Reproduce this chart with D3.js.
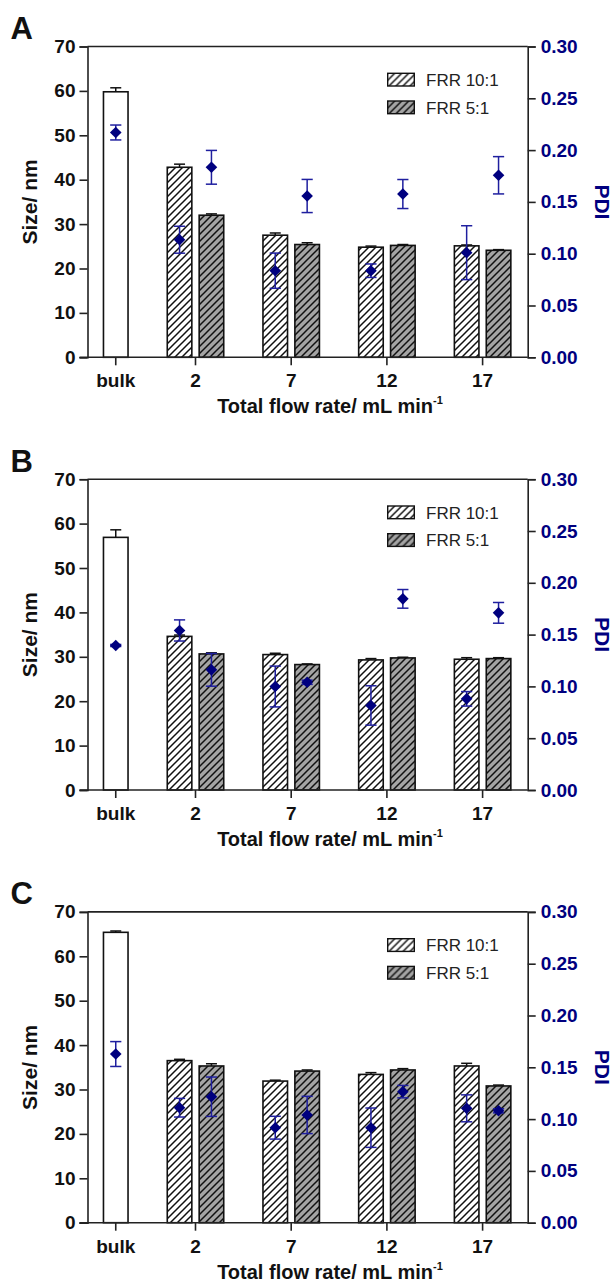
<!DOCTYPE html>
<html>
<head>
<meta charset="utf-8">
<script src="https://cdn.jsdelivr.net/npm/d3@7"></script>
<style>
  body { margin: 0; background: #fff; }
  text { font-family: "Liberation Sans", Arial, sans-serif; }
</style>
</head>
<body>
<div id="chart"></div>
<script>
(function () {
  'use strict';

  // categories and series
  var panels = ["A", "B", "C"];
  var flows = ["2", "7", "12", "17"];
  var series = ["FRR 10:1", "FRR 5:1"];
  var sizeTicks = [0, 10, 20, 30, 40, 50, 60, 70];
  var pdiTicks = [0, 0.05, 0.10, 0.15, 0.20, 0.25, 0.30];

  // size (nm), one row per panel
  var sizeBulk    = [59.8, 56.9, 65.4];
  var sizeBulkErr = [0.9, 1.7, 0.3];
  var size10    = [[42.8, 27.5, 24.8, 25.1], [34.6, 30.5, 29.3, 29.45], [36.5, 31.9, 33.4, 35.3]];
  var size10Err = [[0.7, 0.5, 0.25, 0.2], [0.3, 0.3, 0.3, 0.35], [0.3, 0.2, 0.4, 0.6]];
  var size5     = [[32.0, 25.4, 25.2, 24.1], [30.65, 28.25, 29.75, 29.6], [35.3, 34.15, 34.4, 30.8]];
  var size5Err  = [[0.3, 0.4, 0.2, 0.15], [0.25, 0.15, 0.15, 0.2], [0.5, 0.25, 0.3, 0.2]];

  // PDI
  var pdiBulk    = [0.217, 0.1395, 0.1628];
  var pdiBulkErr = [0.0072, 0.001, 0.012];
  var pdi10    = [[0.1135, 0.0836, 0.0836, 0.101], [0.154, 0.0999, 0.0816, 0.088], [0.111, 0.0917, 0.0917, 0.1104]];
  var pdi10Err = [[0.013, 0.017, 0.0065, 0.026], [0.0102, 0.0197, 0.019, 0.007], [0.009, 0.011, 0.019, 0.013]];
  var pdi5     = [[0.1834, 0.1557, 0.1576, 0.1757], [0.116, 0.104, 0.1845, 0.171], [0.1216, 0.104, 0.1265, 0.108]];
  var pdi5Err  = [[0.0163, 0.016, 0.014, 0.018], [0.0158, 0.002, 0.009, 0.010], [0.019, 0.018, 0.006, 0.002]];

  var W = 613, H = 1283;
  var left = 87.5, right = 527.7;
  var firstTop = 46.5, plotH = 310.8, panelStep = 432.7;
  var navy = "#00007f", errBlue = "#1f1f9f", axisCol = "#222";

  var svg = d3.select("#chart").append("svg")
      .attr("width", W).attr("height", H);

  // hatch patterns
  var defs = svg.append("defs");
  function hatch(id, bg) {
    var p = defs.append("pattern")
        .attr("id", id)
        .attr("patternUnits", "userSpaceOnUse")
        .attr("width", 7).attr("height", 7);
    p.append("rect").attr("width", 7).attr("height", 7).attr("fill", bg);
    p.append("path")
        .attr("d", "M-1,1 l2,-2 M0,7 l7,-7 M6,8 l2,-2")
        .attr("stroke", "#111").attr("stroke-width", 1.5);
  }
  hatch("hatchW", "#fff");
  hatch("hatchG", "#a4a4a4");
  var fills = ["url(#hatchW)", "url(#hatchG)"];

  // slots: bulk, then a gap and one slot per series for each flow rate
  var slots = ["bulk"];
  flows.forEach(function (f) {
    slots.push("gap" + f);
    series.forEach(function (s, j) { slots.push(f + "|" + j); });
  });

  var x = d3.scaleBand()
      .domain(slots)
      .range([left + 12.3, right - 13.2])
      .paddingInner(0.23)
      .paddingOuter(0.115);
  var bw = x.bandwidth();

  function tickX(c) {
    if (c === "bulk") return x("bulk") + bw / 2;
    return (x(c + "|0") + x(c + "|1") + bw) / 2;
  }

  panels.forEach(function (name, pi) {
    var top = firstTop + pi * panelStep;
    var bottom = top + plotH;
    var g = svg.append("g");

    var y = d3.scaleLinear().domain([0, 70]).range([bottom, top]);
    var y2 = d3.scaleLinear().domain([0, 0.30]).range([bottom, top]);

    // bar records
    var bars = [{ key: "bulk", v: sizeBulk[pi], e: sizeBulkErr[pi], fill: "#fff",
                  p: pdiBulk[pi], pe: pdiBulkErr[pi] }];
    flows.forEach(function (f, k) {
      bars.push({ key: f + "|0", v: size10[pi][k], e: size10Err[pi][k], fill: fills[0],
                  p: pdi10[pi][k], pe: pdi10Err[pi][k] });
      bars.push({ key: f + "|1", v: size5[pi][k], e: size5Err[pi][k], fill: fills[1],
                  p: pdi5[pi][k], pe: pdi5Err[pi][k] });
    });

    // frame top line
    g.append("line")
        .attr("x1", left).attr("x2", right)
        .attr("y1", top).attr("y2", top)
        .attr("stroke", axisCol).attr("stroke-width", 1.6);

    // bar error whiskers
    var be = g.selectAll(".berr").data(bars).enter().append("g");
    be.append("line")
        .attr("x1", function (d) { return x(d.key) + bw / 2; })
        .attr("x2", function (d) { return x(d.key) + bw / 2; })
        .attr("y1", function (d) { return y(d.v); })
        .attr("y2", function (d) { return y(d.v + d.e); })
        .attr("stroke", "#111").attr("stroke-width", 1.5);
    be.append("line")
        .attr("x1", function (d) { return x(d.key) + bw / 2 - 5.5; })
        .attr("x2", function (d) { return x(d.key) + bw / 2 + 5.5; })
        .attr("y1", function (d) { return y(d.v + d.e); })
        .attr("y2", function (d) { return y(d.v + d.e); })
        .attr("stroke", "#111").attr("stroke-width", 1.5);

    // bars
    g.selectAll(".bar").data(bars).enter().append("rect")
        .attr("x", function (d) { return x(d.key); })
        .attr("width", bw)
        .attr("y", function (d) { return y(d.v); })
        .attr("height", function (d) { return y(0) - y(d.v); })
        .attr("fill", function (d) { return d.fill; })
        .attr("stroke", "#111").attr("stroke-width", 1.6);

    // left axis
    var ya = g.append("g").attr("transform", "translate(" + left + ",0)")
        .call(d3.axisLeft(y).tickValues(sizeTicks).tickSize(8).tickPadding(4)
              .tickFormat(d3.format("d")));
    ya.select(".domain").attr("stroke", axisCol).attr("stroke-width", 1.6);
    ya.selectAll(".tick line").attr("stroke", axisCol).attr("stroke-width", 1.6);
    ya.selectAll("text").attr("font-size", 19).attr("font-weight", "bold")
        .attr("fill", "#111");

    // right axis
    var yb = g.append("g").attr("transform", "translate(" + right + ",0)")
        .call(d3.axisRight(y2).tickValues(pdiTicks).tickSize(8).tickPadding(5)
              .tickFormat(d3.format(".2f")));
    yb.select(".domain").attr("stroke", axisCol).attr("stroke-width", 1.6);
    yb.selectAll(".tick line").attr("stroke", axisCol).attr("stroke-width", 1.6);
    yb.selectAll("text").attr("font-size", 19).attr("font-weight", "bold")
        .attr("fill", navy);

    // bottom axis
    g.append("line")
        .attr("x1", left - 8).attr("x2", right)
        .attr("y1", bottom).attr("y2", bottom)
        .attr("stroke", axisCol).attr("stroke-width", 1.6);
    var cats = ["bulk"].concat(flows);
    g.selectAll(".xt").data(cats).enter().append("line")
        .attr("x1", tickX).attr("x2", tickX)
        .attr("y1", bottom).attr("y2", bottom + 8)
        .attr("stroke", axisCol).attr("stroke-width", 1.6);
    g.selectAll(".xl").data(cats).enter().append("text")
        .attr("x", tickX)
        .attr("y", bottom + 30)
        .attr("text-anchor", "middle")
        .attr("font-size", 19).attr("font-weight", "bold").attr("fill", "#111")
        .text(function (d) { return d; });

    // PDI error bars and diamonds
    var pe = g.selectAll(".perr").data(bars).enter().append("g")
        .attr("stroke", errBlue).attr("stroke-width", 1.5);
    pe.append("line")
        .attr("x1", function (d) { return x(d.key) + bw / 2; })
        .attr("x2", function (d) { return x(d.key) + bw / 2; })
        .attr("y1", function (d) { return y2(d.p - d.pe); })
        .attr("y2", function (d) { return y2(d.p + d.pe); });
    [-1, 1].forEach(function (sgn) {
      pe.append("line")
          .attr("x1", function (d) { return x(d.key) + bw / 2 - 5.6; })
          .attr("x2", function (d) { return x(d.key) + bw / 2 + 5.6; })
          .attr("y1", function (d) { return y2(d.p + sgn * d.pe); })
          .attr("y2", function (d) { return y2(d.p + sgn * d.pe); });
    });
    g.selectAll(".pdi").data(bars).enter().append("path")
        .attr("d", d3.symbol().type(d3.symbolDiamond2).size(86))
        .attr("transform", function (d) {
          return "translate(" + (x(d.key) + bw / 2) + "," + y2(d.p) + ")";
        })
        .attr("fill", navy);

    // legend
    var lg = g.selectAll(".lg").data(series).enter().append("g")
        .attr("transform", function (d, i) {
          return "translate(387.7," + (top + 26.8 + i * 27.7) + ")";
        });
    lg.append("rect")
        .attr("width", 26.6).attr("height", 12.7)
        .attr("fill", function (d, i) { return fills[i]; })
        .attr("stroke", "#111").attr("stroke-width", 1.4);
    lg.append("text")
        .attr("x", 38.3).attr("y", 12.5)
        .attr("font-size", 17).attr("fill", "#222")
        .text(function (d) { return d; });

    // axis titles
    g.append("text")
        .attr("transform", "translate(37," + (top + plotH / 2) + ") rotate(-90)")
        .attr("text-anchor", "middle")
        .attr("font-size", 21).attr("font-weight", "bold").attr("fill", "#111")
        .text("Size/ nm");
    g.append("text")
        .attr("transform", "translate(595," + (top + plotH / 2) + ") rotate(90)")
        .attr("text-anchor", "middle")
        .attr("font-size", 21).attr("font-weight", "bold").attr("fill", navy)
        .text("PDI");
    var xt = g.append("text")
        .attr("x", 330).attr("y", bottom + 56)
        .attr("text-anchor", "middle")
        .attr("font-size", 20).attr("font-weight", "bold").attr("fill", "#111");
    xt.append("tspan").text("Total flow rate/ mL min");
    xt.append("tspan").attr("font-size", 11).attr("dy", -9).text("-1");

    // panel letter
    g.append("text")
        .attr("x", 10.5).attr("y", top - 7.5)
        .attr("font-size", 31).attr("font-weight", "bold").attr("fill", "#111")
        .text(name);
  });
}());
</script>
</body>
</html>
